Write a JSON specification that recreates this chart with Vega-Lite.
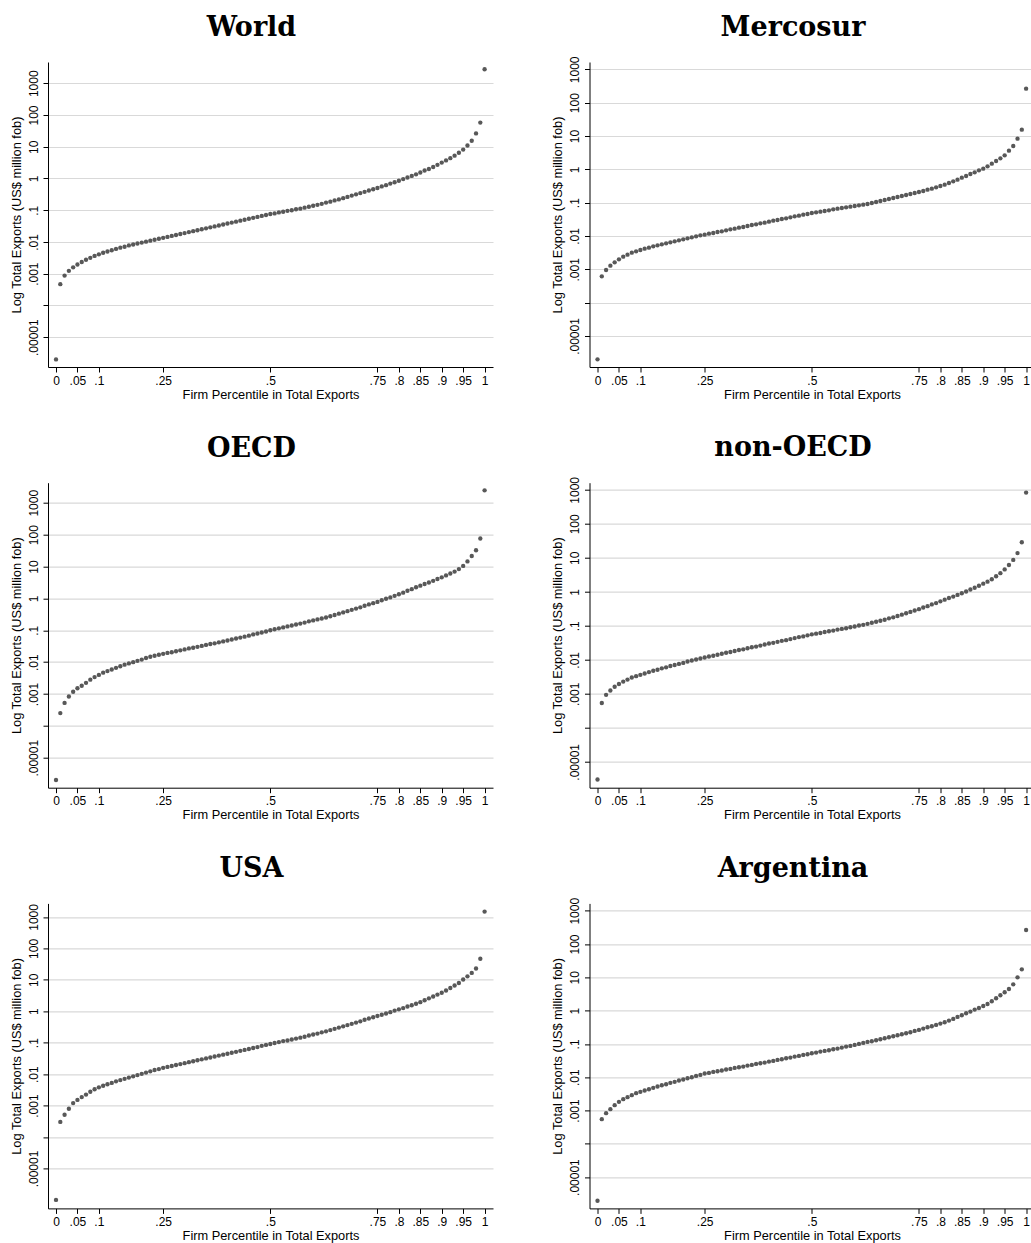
{
"$schema": "https://vega.github.io/schema/vega-lite/v6.json",
"background": "white",
"padding": {"left": 10, "top": 13, "right": 0, "bottom": 0},
"columns": 2,
"spacing": {"row": 32.7, "column": 58.5},
"config": {
  "view": {"stroke": null},
  "axis": {"domainColor": "black", "tickColor": "black", "labelColor": "black", "titleColor": "black", "labelFont": "Liberation Sans", "labelFontSize": 12, "titleFont": "Liberation Sans", "titleFontSize": 12.8, "titleFontWeight": "normal", "domainWidth": 1, "tickWidth": 1, "tickSize": 5, "labelPadding": 3},
  "title": {"font": "DejaVu Serif", "fontSize": 27, "fontWeight": "bold", "color": "black", "anchor": "middle", "frame": "bounds", "offset": 20}
},
"datasets": {
"world": [{"p":0,"v":-5.70},{"p":0.01,"v":-3.33},{"p":0.02,"v":-3.06},{"p":0.03,"v":-2.91},{"p":0.04,"v":-2.80},{"p":0.05,"v":-2.71},{"p":0.06,"v":-2.63},{"p":0.07,"v":-2.56},{"p":0.08,"v":-2.50},{"p":0.09,"v":-2.44},{"p":0.1,"v":-2.39},
{"p":0.11,"v":-2.34},{"p":0.12,"v":-2.30},{"p":0.13,"v":-2.26},{"p":0.14,"v":-2.22},{"p":0.15,"v":-2.18},{"p":0.16,"v":-2.15},{"p":0.17,"v":-2.11},{"p":0.18,"v":-2.08},{"p":0.19,"v":-2.05},{"p":0.2,"v":-2.02},
{"p":0.21,"v":-1.99},{"p":0.22,"v":-1.96},{"p":0.23,"v":-1.93},{"p":0.24,"v":-1.90},{"p":0.25,"v":-1.87},{"p":0.26,"v":-1.84},{"p":0.27,"v":-1.81},{"p":0.28,"v":-1.78},{"p":0.29,"v":-1.75},{"p":0.3,"v":-1.72},
{"p":0.31,"v":-1.69},{"p":0.32,"v":-1.66},{"p":0.33,"v":-1.63},{"p":0.34,"v":-1.60},{"p":0.35,"v":-1.57},{"p":0.36,"v":-1.54},{"p":0.37,"v":-1.51},{"p":0.38,"v":-1.48},{"p":0.39,"v":-1.45},{"p":0.4,"v":-1.42},
{"p":0.41,"v":-1.39},{"p":0.42,"v":-1.36},{"p":0.43,"v":-1.33},{"p":0.44,"v":-1.30},{"p":0.45,"v":-1.27},{"p":0.46,"v":-1.24},{"p":0.47,"v":-1.21},{"p":0.48,"v":-1.18},{"p":0.49,"v":-1.15},{"p":0.5,"v":-1.12},
{"p":0.51,"v":-1.10},{"p":0.52,"v":-1.07},{"p":0.53,"v":-1.05},{"p":0.54,"v":-1.02},{"p":0.55,"v":-1.00},{"p":0.56,"v":-0.97},{"p":0.57,"v":-0.95},{"p":0.58,"v":-0.92},{"p":0.59,"v":-0.89},{"p":0.6,"v":-0.86},
{"p":0.61,"v":-0.83},{"p":0.62,"v":-0.80},{"p":0.63,"v":-0.76},{"p":0.64,"v":-0.73},{"p":0.65,"v":-0.69},{"p":0.66,"v":-0.66},{"p":0.67,"v":-0.62},{"p":0.68,"v":-0.58},{"p":0.69,"v":-0.54},{"p":0.7,"v":-0.50},
{"p":0.71,"v":-0.46},{"p":0.72,"v":-0.42},{"p":0.73,"v":-0.38},{"p":0.74,"v":-0.34},{"p":0.75,"v":-0.30},{"p":0.76,"v":-0.25},{"p":0.77,"v":-0.21},{"p":0.78,"v":-0.16},{"p":0.79,"v":-0.12},{"p":0.8,"v":-0.07},
{"p":0.81,"v":-0.02},{"p":0.82,"v":0.03},{"p":0.83,"v":0.08},{"p":0.84,"v":0.13},{"p":0.85,"v":0.19},{"p":0.86,"v":0.25},{"p":0.87,"v":0.30},{"p":0.88,"v":0.36},{"p":0.89,"v":0.43},{"p":0.9,"v":0.50},
{"p":0.91,"v":0.57},{"p":0.92,"v":0.64},{"p":0.93,"v":0.72},{"p":0.94,"v":0.81},{"p":0.95,"v":0.91},{"p":0.96,"v":1.04},{"p":0.97,"v":1.19},{"p":0.98,"v":1.42},{"p":0.99,"v":1.76},{"p":1,"v":3.44}],
"mercosur": [{"p":0,"v":-5.70},{"p":0.01,"v":-3.21},{"p":0.02,"v":-3.02},{"p":0.03,"v":-2.89},{"p":0.04,"v":-2.79},{"p":0.05,"v":-2.70},{"p":0.06,"v":-2.62},{"p":0.07,"v":-2.56},{"p":0.08,"v":-2.50},{"p":0.09,"v":-2.46},{"p":0.1,"v":-2.42},
{"p":0.11,"v":-2.38},{"p":0.12,"v":-2.35},{"p":0.13,"v":-2.31},{"p":0.14,"v":-2.28},{"p":0.15,"v":-2.25},{"p":0.16,"v":-2.22},{"p":0.17,"v":-2.19},{"p":0.18,"v":-2.16},{"p":0.19,"v":-2.13},{"p":0.2,"v":-2.10},
{"p":0.21,"v":-2.07},{"p":0.22,"v":-2.04},{"p":0.23,"v":-2.01},{"p":0.24,"v":-1.98},{"p":0.25,"v":-1.96},{"p":0.26,"v":-1.93},{"p":0.27,"v":-1.91},{"p":0.28,"v":-1.88},{"p":0.29,"v":-1.86},{"p":0.3,"v":-1.83},
{"p":0.31,"v":-1.80},{"p":0.32,"v":-1.78},{"p":0.33,"v":-1.75},{"p":0.34,"v":-1.73},{"p":0.35,"v":-1.70},{"p":0.36,"v":-1.67},{"p":0.37,"v":-1.65},{"p":0.38,"v":-1.62},{"p":0.39,"v":-1.60},{"p":0.4,"v":-1.57},
{"p":0.41,"v":-1.54},{"p":0.42,"v":-1.52},{"p":0.43,"v":-1.49},{"p":0.44,"v":-1.47},{"p":0.45,"v":-1.44},{"p":0.46,"v":-1.41},{"p":0.47,"v":-1.39},{"p":0.48,"v":-1.36},{"p":0.49,"v":-1.34},{"p":0.5,"v":-1.31},
{"p":0.51,"v":-1.29},{"p":0.52,"v":-1.27},{"p":0.53,"v":-1.25},{"p":0.54,"v":-1.23},{"p":0.55,"v":-1.20},{"p":0.56,"v":-1.18},{"p":0.57,"v":-1.16},{"p":0.58,"v":-1.14},{"p":0.59,"v":-1.12},{"p":0.6,"v":-1.10},
{"p":0.61,"v":-1.08},{"p":0.62,"v":-1.06},{"p":0.63,"v":-1.04},{"p":0.64,"v":-1.01},{"p":0.65,"v":-0.98},{"p":0.66,"v":-0.95},{"p":0.67,"v":-0.92},{"p":0.68,"v":-0.89},{"p":0.69,"v":-0.86},{"p":0.7,"v":-0.83},
{"p":0.71,"v":-0.80},{"p":0.72,"v":-0.77},{"p":0.73,"v":-0.74},{"p":0.74,"v":-0.71},{"p":0.75,"v":-0.68},{"p":0.76,"v":-0.65},{"p":0.77,"v":-0.61},{"p":0.78,"v":-0.58},{"p":0.79,"v":-0.54},{"p":0.8,"v":-0.50},
{"p":0.81,"v":-0.46},{"p":0.82,"v":-0.41},{"p":0.83,"v":-0.36},{"p":0.84,"v":-0.31},{"p":0.85,"v":-0.25},{"p":0.86,"v":-0.20},{"p":0.87,"v":-0.14},{"p":0.88,"v":-0.09},{"p":0.89,"v":-0.03},{"p":0.9,"v":0.02},
{"p":0.91,"v":0.09},{"p":0.92,"v":0.17},{"p":0.93,"v":0.25},{"p":0.94,"v":0.33},{"p":0.95,"v":0.42},{"p":0.96,"v":0.56},{"p":0.97,"v":0.70},{"p":0.98,"v":0.92},{"p":0.99,"v":1.19},{"p":1,"v":2.42}],
"oecd": [{"p":0,"v":-5.70},{"p":0.01,"v":-3.60},{"p":0.02,"v":-3.28},{"p":0.03,"v":-3.08},{"p":0.04,"v":-2.93},{"p":0.05,"v":-2.82},{"p":0.06,"v":-2.74},{"p":0.07,"v":-2.65},{"p":0.08,"v":-2.55},{"p":0.09,"v":-2.47},{"p":0.1,"v":-2.40},
{"p":0.11,"v":-2.33},{"p":0.12,"v":-2.28},{"p":0.13,"v":-2.23},{"p":0.14,"v":-2.18},{"p":0.15,"v":-2.13},{"p":0.16,"v":-2.08},{"p":0.17,"v":-2.04},{"p":0.18,"v":-2.00},{"p":0.19,"v":-1.96},{"p":0.2,"v":-1.92},
{"p":0.21,"v":-1.87},{"p":0.22,"v":-1.83},{"p":0.23,"v":-1.80},{"p":0.24,"v":-1.77},{"p":0.25,"v":-1.74},{"p":0.26,"v":-1.71},{"p":0.27,"v":-1.69},{"p":0.28,"v":-1.66},{"p":0.29,"v":-1.63},{"p":0.3,"v":-1.60},
{"p":0.31,"v":-1.57},{"p":0.32,"v":-1.55},{"p":0.33,"v":-1.52},{"p":0.34,"v":-1.49},{"p":0.35,"v":-1.46},{"p":0.36,"v":-1.43},{"p":0.37,"v":-1.41},{"p":0.38,"v":-1.38},{"p":0.39,"v":-1.35},{"p":0.4,"v":-1.32},
{"p":0.41,"v":-1.29},{"p":0.42,"v":-1.26},{"p":0.43,"v":-1.23},{"p":0.44,"v":-1.20},{"p":0.45,"v":-1.17},{"p":0.46,"v":-1.13},{"p":0.47,"v":-1.10},{"p":0.48,"v":-1.07},{"p":0.49,"v":-1.04},{"p":0.5,"v":-1.00},
{"p":0.51,"v":-0.97},{"p":0.52,"v":-0.94},{"p":0.53,"v":-0.91},{"p":0.54,"v":-0.88},{"p":0.55,"v":-0.85},{"p":0.56,"v":-0.82},{"p":0.57,"v":-0.79},{"p":0.58,"v":-0.76},{"p":0.59,"v":-0.72},{"p":0.6,"v":-0.69},
{"p":0.61,"v":-0.66},{"p":0.62,"v":-0.63},{"p":0.63,"v":-0.60},{"p":0.64,"v":-0.56},{"p":0.65,"v":-0.52},{"p":0.66,"v":-0.48},{"p":0.67,"v":-0.44},{"p":0.68,"v":-0.40},{"p":0.69,"v":-0.36},{"p":0.7,"v":-0.32},
{"p":0.71,"v":-0.28},{"p":0.72,"v":-0.23},{"p":0.73,"v":-0.19},{"p":0.74,"v":-0.15},{"p":0.75,"v":-0.11},{"p":0.76,"v":-0.06},{"p":0.77,"v":-0.01},{"p":0.78,"v":0.03},{"p":0.79,"v":0.08},{"p":0.8,"v":0.13},
{"p":0.81,"v":0.18},{"p":0.82,"v":0.24},{"p":0.83,"v":0.29},{"p":0.84,"v":0.35},{"p":0.85,"v":0.40},{"p":0.86,"v":0.45},{"p":0.87,"v":0.50},{"p":0.88,"v":0.55},{"p":0.89,"v":0.61},{"p":0.9,"v":0.66},
{"p":0.91,"v":0.72},{"p":0.92,"v":0.78},{"p":0.93,"v":0.84},{"p":0.94,"v":0.92},{"p":0.95,"v":1.02},{"p":0.96,"v":1.16},{"p":0.97,"v":1.33},{"p":0.98,"v":1.51},{"p":0.99,"v":1.88},{"p":1,"v":3.39}],
"nonoecd": [{"p":0,"v":-5.52},{"p":0.01,"v":-3.27},{"p":0.02,"v":-3.03},{"p":0.03,"v":-2.90},{"p":0.04,"v":-2.79},{"p":0.05,"v":-2.71},{"p":0.06,"v":-2.64},{"p":0.07,"v":-2.58},{"p":0.08,"v":-2.52},{"p":0.09,"v":-2.48},{"p":0.1,"v":-2.44},
{"p":0.11,"v":-2.40},{"p":0.12,"v":-2.36},{"p":0.13,"v":-2.32},{"p":0.14,"v":-2.29},{"p":0.15,"v":-2.25},{"p":0.16,"v":-2.22},{"p":0.17,"v":-2.18},{"p":0.18,"v":-2.15},{"p":0.19,"v":-2.12},{"p":0.2,"v":-2.09},
{"p":0.21,"v":-2.05},{"p":0.22,"v":-2.02},{"p":0.23,"v":-1.99},{"p":0.24,"v":-1.96},{"p":0.25,"v":-1.93},{"p":0.26,"v":-1.90},{"p":0.27,"v":-1.88},{"p":0.28,"v":-1.85},{"p":0.29,"v":-1.82},{"p":0.3,"v":-1.79},
{"p":0.31,"v":-1.77},{"p":0.32,"v":-1.74},{"p":0.33,"v":-1.71},{"p":0.34,"v":-1.69},{"p":0.35,"v":-1.66},{"p":0.36,"v":-1.63},{"p":0.37,"v":-1.61},{"p":0.38,"v":-1.58},{"p":0.39,"v":-1.55},{"p":0.4,"v":-1.52},
{"p":0.41,"v":-1.50},{"p":0.42,"v":-1.47},{"p":0.43,"v":-1.44},{"p":0.44,"v":-1.42},{"p":0.45,"v":-1.39},{"p":0.46,"v":-1.36},{"p":0.47,"v":-1.33},{"p":0.48,"v":-1.31},{"p":0.49,"v":-1.28},{"p":0.5,"v":-1.25},
{"p":0.51,"v":-1.23},{"p":0.52,"v":-1.21},{"p":0.53,"v":-1.18},{"p":0.54,"v":-1.16},{"p":0.55,"v":-1.14},{"p":0.56,"v":-1.11},{"p":0.57,"v":-1.09},{"p":0.58,"v":-1.07},{"p":0.59,"v":-1.04},{"p":0.6,"v":-1.02},
{"p":0.61,"v":-0.99},{"p":0.62,"v":-0.97},{"p":0.63,"v":-0.94},{"p":0.64,"v":-0.91},{"p":0.65,"v":-0.88},{"p":0.66,"v":-0.85},{"p":0.67,"v":-0.82},{"p":0.68,"v":-0.78},{"p":0.69,"v":-0.75},{"p":0.7,"v":-0.71},
{"p":0.71,"v":-0.67},{"p":0.72,"v":-0.63},{"p":0.73,"v":-0.59},{"p":0.74,"v":-0.55},{"p":0.75,"v":-0.51},{"p":0.76,"v":-0.46},{"p":0.77,"v":-0.42},{"p":0.78,"v":-0.37},{"p":0.79,"v":-0.33},{"p":0.8,"v":-0.28},
{"p":0.81,"v":-0.23},{"p":0.82,"v":-0.18},{"p":0.83,"v":-0.14},{"p":0.84,"v":-0.09},{"p":0.85,"v":-0.04},{"p":0.86,"v":0.01},{"p":0.87,"v":0.07},{"p":0.88,"v":0.12},{"p":0.89,"v":0.18},{"p":0.9,"v":0.24},
{"p":0.91,"v":0.30},{"p":0.92,"v":0.37},{"p":0.93,"v":0.46},{"p":0.94,"v":0.55},{"p":0.95,"v":0.66},{"p":0.96,"v":0.79},{"p":0.97,"v":0.94},{"p":0.98,"v":1.14},{"p":0.99,"v":1.46},{"p":1,"v":2.92}],
"usa": [{"p":0,"v":-6.00},{"p":0.01,"v":-3.52},{"p":0.02,"v":-3.29},{"p":0.03,"v":-3.10},{"p":0.04,"v":-2.92},{"p":0.05,"v":-2.82},{"p":0.06,"v":-2.73},{"p":0.07,"v":-2.65},{"p":0.08,"v":-2.56},{"p":0.09,"v":-2.48},{"p":0.1,"v":-2.42},
{"p":0.11,"v":-2.37},{"p":0.12,"v":-2.32},{"p":0.13,"v":-2.28},{"p":0.14,"v":-2.23},{"p":0.15,"v":-2.19},{"p":0.16,"v":-2.15},{"p":0.17,"v":-2.11},{"p":0.18,"v":-2.07},{"p":0.19,"v":-2.03},{"p":0.2,"v":-1.99},
{"p":0.21,"v":-1.95},{"p":0.22,"v":-1.91},{"p":0.23,"v":-1.87},{"p":0.24,"v":-1.84},{"p":0.25,"v":-1.80},{"p":0.26,"v":-1.77},{"p":0.27,"v":-1.74},{"p":0.28,"v":-1.71},{"p":0.29,"v":-1.68},{"p":0.3,"v":-1.65},
{"p":0.31,"v":-1.62},{"p":0.32,"v":-1.59},{"p":0.33,"v":-1.56},{"p":0.34,"v":-1.53},{"p":0.35,"v":-1.50},{"p":0.36,"v":-1.47},{"p":0.37,"v":-1.44},{"p":0.38,"v":-1.41},{"p":0.39,"v":-1.38},{"p":0.4,"v":-1.35},
{"p":0.41,"v":-1.32},{"p":0.42,"v":-1.29},{"p":0.43,"v":-1.26},{"p":0.44,"v":-1.23},{"p":0.45,"v":-1.20},{"p":0.46,"v":-1.17},{"p":0.47,"v":-1.14},{"p":0.48,"v":-1.10},{"p":0.49,"v":-1.07},{"p":0.5,"v":-1.04},
{"p":0.51,"v":-1.01},{"p":0.52,"v":-0.98},{"p":0.53,"v":-0.95},{"p":0.54,"v":-0.93},{"p":0.55,"v":-0.90},{"p":0.56,"v":-0.87},{"p":0.57,"v":-0.84},{"p":0.58,"v":-0.81},{"p":0.59,"v":-0.77},{"p":0.6,"v":-0.74},
{"p":0.61,"v":-0.71},{"p":0.62,"v":-0.67},{"p":0.63,"v":-0.64},{"p":0.64,"v":-0.60},{"p":0.65,"v":-0.56},{"p":0.66,"v":-0.52},{"p":0.67,"v":-0.48},{"p":0.68,"v":-0.44},{"p":0.69,"v":-0.40},{"p":0.7,"v":-0.36},
{"p":0.71,"v":-0.32},{"p":0.72,"v":-0.27},{"p":0.73,"v":-0.23},{"p":0.74,"v":-0.19},{"p":0.75,"v":-0.15},{"p":0.76,"v":-0.11},{"p":0.77,"v":-0.07},{"p":0.78,"v":-0.03},{"p":0.79,"v":0.02},{"p":0.8,"v":0.06},
{"p":0.81,"v":0.10},{"p":0.82,"v":0.15},{"p":0.83,"v":0.19},{"p":0.84,"v":0.24},{"p":0.85,"v":0.29},{"p":0.86,"v":0.35},{"p":0.87,"v":0.41},{"p":0.88,"v":0.47},{"p":0.89,"v":0.53},{"p":0.9,"v":0.59},
{"p":0.91,"v":0.66},{"p":0.92,"v":0.74},{"p":0.93,"v":0.82},{"p":0.94,"v":0.90},{"p":0.95,"v":1.01},{"p":0.96,"v":1.11},{"p":0.97,"v":1.22},{"p":0.98,"v":1.36},{"p":0.99,"v":1.67},{"p":1,"v":3.17}],
"argentina": [{"p":0,"v":-5.71},{"p":0.01,"v":-3.26},{"p":0.02,"v":-3.08},{"p":0.03,"v":-2.96},{"p":0.04,"v":-2.84},{"p":0.05,"v":-2.74},{"p":0.06,"v":-2.66},{"p":0.07,"v":-2.60},{"p":0.08,"v":-2.54},{"p":0.09,"v":-2.48},{"p":0.1,"v":-2.44},
{"p":0.11,"v":-2.40},{"p":0.12,"v":-2.36},{"p":0.13,"v":-2.32},{"p":0.14,"v":-2.28},{"p":0.15,"v":-2.24},{"p":0.16,"v":-2.21},{"p":0.17,"v":-2.17},{"p":0.18,"v":-2.14},{"p":0.19,"v":-2.10},{"p":0.2,"v":-2.07},
{"p":0.21,"v":-2.03},{"p":0.22,"v":-2.00},{"p":0.23,"v":-1.96},{"p":0.24,"v":-1.93},{"p":0.25,"v":-1.89},{"p":0.26,"v":-1.87},{"p":0.27,"v":-1.84},{"p":0.28,"v":-1.82},{"p":0.29,"v":-1.80},{"p":0.3,"v":-1.77},
{"p":0.31,"v":-1.75},{"p":0.32,"v":-1.72},{"p":0.33,"v":-1.70},{"p":0.34,"v":-1.68},{"p":0.35,"v":-1.65},{"p":0.36,"v":-1.63},{"p":0.37,"v":-1.60},{"p":0.38,"v":-1.58},{"p":0.39,"v":-1.56},{"p":0.4,"v":-1.53},
{"p":0.41,"v":-1.51},{"p":0.42,"v":-1.48},{"p":0.43,"v":-1.46},{"p":0.44,"v":-1.43},{"p":0.45,"v":-1.41},{"p":0.46,"v":-1.38},{"p":0.47,"v":-1.36},{"p":0.48,"v":-1.33},{"p":0.49,"v":-1.31},{"p":0.5,"v":-1.28},
{"p":0.51,"v":-1.26},{"p":0.52,"v":-1.23},{"p":0.53,"v":-1.21},{"p":0.54,"v":-1.19},{"p":0.55,"v":-1.16},{"p":0.56,"v":-1.14},{"p":0.57,"v":-1.11},{"p":0.58,"v":-1.08},{"p":0.59,"v":-1.06},{"p":0.6,"v":-1.03},
{"p":0.61,"v":-1.00},{"p":0.62,"v":-0.97},{"p":0.63,"v":-0.94},{"p":0.64,"v":-0.92},{"p":0.65,"v":-0.89},{"p":0.66,"v":-0.86},{"p":0.67,"v":-0.83},{"p":0.68,"v":-0.80},{"p":0.69,"v":-0.77},{"p":0.7,"v":-0.74},
{"p":0.71,"v":-0.71},{"p":0.72,"v":-0.68},{"p":0.73,"v":-0.65},{"p":0.74,"v":-0.61},{"p":0.75,"v":-0.58},{"p":0.76,"v":-0.54},{"p":0.77,"v":-0.50},{"p":0.78,"v":-0.47},{"p":0.79,"v":-0.43},{"p":0.8,"v":-0.39},
{"p":0.81,"v":-0.35},{"p":0.82,"v":-0.30},{"p":0.83,"v":-0.25},{"p":0.84,"v":-0.19},{"p":0.85,"v":-0.14},{"p":0.86,"v":-0.08},{"p":0.87,"v":-0.03},{"p":0.88,"v":0.03},{"p":0.89,"v":0.08},{"p":0.9,"v":0.14},
{"p":0.91,"v":0.20},{"p":0.92,"v":0.28},{"p":0.93,"v":0.37},{"p":0.94,"v":0.46},{"p":0.95,"v":0.55},{"p":0.96,"v":0.65},{"p":0.97,"v":0.79},{"p":0.98,"v":1.00},{"p":0.99,"v":1.24},{"p":1,"v":2.42}]
},
"concat": [
{"title": {"text": "World"}, "data": {"name": "world"}, "width": 445, "height": 305,
 "mark": {"type": "circle", "size": 19, "color": "#585858", "opacity": 1},
 "encoding": {
  "x": {"field": "p", "type": "quantitative", "scale": {"domain": [-0.0187, 1.0196], "nice": false, "zero": false}, "axis": {"title": "Firm Percentile in Total Exports", "values": [0,0.05,0.1,0.25,0.5,0.75,0.8,0.85,0.9,0.95,1], "labelExpr": "datum.value == 0 ? '0' : datum.value == 1 ? '1' : slice(format(datum.value, '.2~f'), 1)", "grid": false, "labelFlush": false, "labelOverlap": false, "titlePadding": 2}},
  "y": {"field": "v", "type": "quantitative", "scale": {"domain": [-5.94, 3.67], "nice": false, "zero": false}, "axis": {"title": "Log Total Exports (US$ million fob)", "values": [-5,-4,-3,-2,-1,0,1,2,3], "labelExpr": "datum.value == 3 ? '1000' : datum.value == 2 ? '100' : datum.value == 1 ? '10' : datum.value == 0 ? '1' : datum.value == -1 ? '.1' : datum.value == -2 ? '.01' : datum.value == -3 ? '.001' : datum.value == -5 ? '.00001' : ''", "labelAngle": -90, "labelAlign": "center", "labelBaseline": "bottom", "grid": true, "gridColor": "#d9d9d9", "gridWidth": 1.2, "labelFlush": false, "labelOverlap": false, "titlePadding": 4}}
 }},
{"title": {"text": "Mercosur", "dy": 6}, "data": {"name": "mercosur"}, "width": 445, "height": 305,
 "mark": {"type": "circle", "size": 19, "color": "#585858", "opacity": 1},
 "encoding": {
  "x": {"field": "p", "type": "quantitative", "scale": {"domain": [-0.0187, 1.0196], "nice": false, "zero": false}, "axis": {"title": "Firm Percentile in Total Exports", "values": [0,0.05,0.1,0.25,0.5,0.75,0.8,0.85,0.9,0.95,1], "labelExpr": "datum.value == 0 ? '0' : datum.value == 1 ? '1' : slice(format(datum.value, '.2~f'), 1)", "grid": false, "labelFlush": false, "labelOverlap": false, "titlePadding": 2}},
  "y": {"field": "v", "type": "quantitative", "scale": {"domain": [-5.93, 3.22], "nice": false, "zero": false}, "axis": {"title": "Log Total Exports (US$ million fob)", "values": [-5,-4,-3,-2,-1,0,1,2,3], "labelExpr": "datum.value == 3 ? '1000' : datum.value == 2 ? '100' : datum.value == 1 ? '10' : datum.value == 0 ? '1' : datum.value == -1 ? '.1' : datum.value == -2 ? '.01' : datum.value == -3 ? '.001' : datum.value == -5 ? '.00001' : ''", "labelAngle": -90, "labelAlign": "center", "labelBaseline": "bottom", "grid": true, "gridColor": "#d9d9d9", "gridWidth": 1.2, "labelFlush": false, "labelOverlap": false, "titlePadding": 4}}
 }},
{"title": {"text": "OECD"}, "data": {"name": "oecd"}, "width": 445, "height": 305,
 "mark": {"type": "circle", "size": 19, "color": "#585858", "opacity": 1},
 "encoding": {
  "x": {"field": "p", "type": "quantitative", "scale": {"domain": [-0.0187, 1.0196], "nice": false, "zero": false}, "axis": {"title": "Firm Percentile in Total Exports", "values": [0,0.05,0.1,0.25,0.5,0.75,0.8,0.85,0.9,0.95,1], "labelExpr": "datum.value == 0 ? '0' : datum.value == 1 ? '1' : slice(format(datum.value, '.2~f'), 1)", "grid": false, "labelFlush": false, "labelOverlap": false, "titlePadding": 2}},
  "y": {"field": "v", "type": "quantitative", "scale": {"domain": [-5.94, 3.63], "nice": false, "zero": false}, "axis": {"title": "Log Total Exports (US$ million fob)", "values": [-5,-4,-3,-2,-1,0,1,2,3], "labelExpr": "datum.value == 3 ? '1000' : datum.value == 2 ? '100' : datum.value == 1 ? '10' : datum.value == 0 ? '1' : datum.value == -1 ? '.1' : datum.value == -2 ? '.01' : datum.value == -3 ? '.001' : datum.value == -5 ? '.00001' : ''", "labelAngle": -90, "labelAlign": "center", "labelBaseline": "bottom", "grid": true, "gridColor": "#d9d9d9", "gridWidth": 1.2, "labelFlush": false, "labelOverlap": false, "titlePadding": 4}}
 }},
{"title": {"text": "non-OECD", "dy": 6}, "data": {"name": "nonoecd"}, "width": 445, "height": 305,
 "mark": {"type": "circle", "size": 19, "color": "#585858", "opacity": 1},
 "encoding": {
  "x": {"field": "p", "type": "quantitative", "scale": {"domain": [-0.0187, 1.0196], "nice": false, "zero": false}, "axis": {"title": "Firm Percentile in Total Exports", "values": [0,0.05,0.1,0.25,0.5,0.75,0.8,0.85,0.9,0.95,1], "labelExpr": "datum.value == 0 ? '0' : datum.value == 1 ? '1' : slice(format(datum.value, '.2~f'), 1)", "grid": false, "labelFlush": false, "labelOverlap": false, "titlePadding": 2}},
  "y": {"field": "v", "type": "quantitative", "scale": {"domain": [-5.76, 3.21], "nice": false, "zero": false}, "axis": {"title": "Log Total Exports (US$ million fob)", "values": [-5,-4,-3,-2,-1,0,1,2,3], "labelExpr": "datum.value == 3 ? '1000' : datum.value == 2 ? '100' : datum.value == 1 ? '10' : datum.value == 0 ? '1' : datum.value == -1 ? '.1' : datum.value == -2 ? '.01' : datum.value == -3 ? '.001' : datum.value == -5 ? '.00001' : ''", "labelAngle": -90, "labelAlign": "center", "labelBaseline": "bottom", "grid": true, "gridColor": "#d9d9d9", "gridWidth": 1.2, "labelFlush": false, "labelOverlap": false, "titlePadding": 4}}
 }},
{"title": {"text": "USA"}, "data": {"name": "usa"}, "width": 445, "height": 305,
 "mark": {"type": "circle", "size": 19, "color": "#585858", "opacity": 1},
 "encoding": {
  "x": {"field": "p", "type": "quantitative", "scale": {"domain": [-0.0187, 1.0196], "nice": false, "zero": false}, "axis": {"title": "Firm Percentile in Total Exports", "values": [0,0.05,0.1,0.25,0.5,0.75,0.8,0.85,0.9,0.95,1], "labelExpr": "datum.value == 0 ? '0' : datum.value == 1 ? '1' : slice(format(datum.value, '.2~f'), 1)", "grid": false, "labelFlush": false, "labelOverlap": false, "titlePadding": 2}},
  "y": {"field": "v", "type": "quantitative", "scale": {"domain": [-6.27, 3.43], "nice": false, "zero": false}, "axis": {"title": "Log Total Exports (US$ million fob)", "values": [-5,-4,-3,-2,-1,0,1,2,3], "labelExpr": "datum.value == 3 ? '1000' : datum.value == 2 ? '100' : datum.value == 1 ? '10' : datum.value == 0 ? '1' : datum.value == -1 ? '.1' : datum.value == -2 ? '.01' : datum.value == -3 ? '.001' : datum.value == -5 ? '.00001' : ''", "labelAngle": -90, "labelAlign": "center", "labelBaseline": "bottom", "grid": true, "gridColor": "#d9d9d9", "gridWidth": 1.2, "labelFlush": false, "labelOverlap": false, "titlePadding": 4}}
 }},
{"title": {"text": "Argentina", "dy": 6}, "data": {"name": "argentina"}, "width": 445, "height": 305,
 "mark": {"type": "circle", "size": 19, "color": "#585858", "opacity": 1},
 "encoding": {
  "x": {"field": "p", "type": "quantitative", "scale": {"domain": [-0.0187, 1.0196], "nice": false, "zero": false}, "axis": {"title": "Firm Percentile in Total Exports", "values": [0,0.05,0.1,0.25,0.5,0.75,0.8,0.85,0.9,0.95,1], "labelExpr": "datum.value == 0 ? '0' : datum.value == 1 ? '1' : slice(format(datum.value, '.2~f'), 1)", "grid": false, "labelFlush": false, "labelOverlap": false, "titlePadding": 2}},
  "y": {"field": "v", "type": "quantitative", "scale": {"domain": [-5.94, 3.22], "nice": false, "zero": false}, "axis": {"title": "Log Total Exports (US$ million fob)", "values": [-5,-4,-3,-2,-1,0,1,2,3], "labelExpr": "datum.value == 3 ? '1000' : datum.value == 2 ? '100' : datum.value == 1 ? '10' : datum.value == 0 ? '1' : datum.value == -1 ? '.1' : datum.value == -2 ? '.01' : datum.value == -3 ? '.001' : datum.value == -5 ? '.00001' : ''", "labelAngle": -90, "labelAlign": "center", "labelBaseline": "bottom", "grid": true, "gridColor": "#d9d9d9", "gridWidth": 1.2, "labelFlush": false, "labelOverlap": false, "titlePadding": 4}}
 }}
]
}
